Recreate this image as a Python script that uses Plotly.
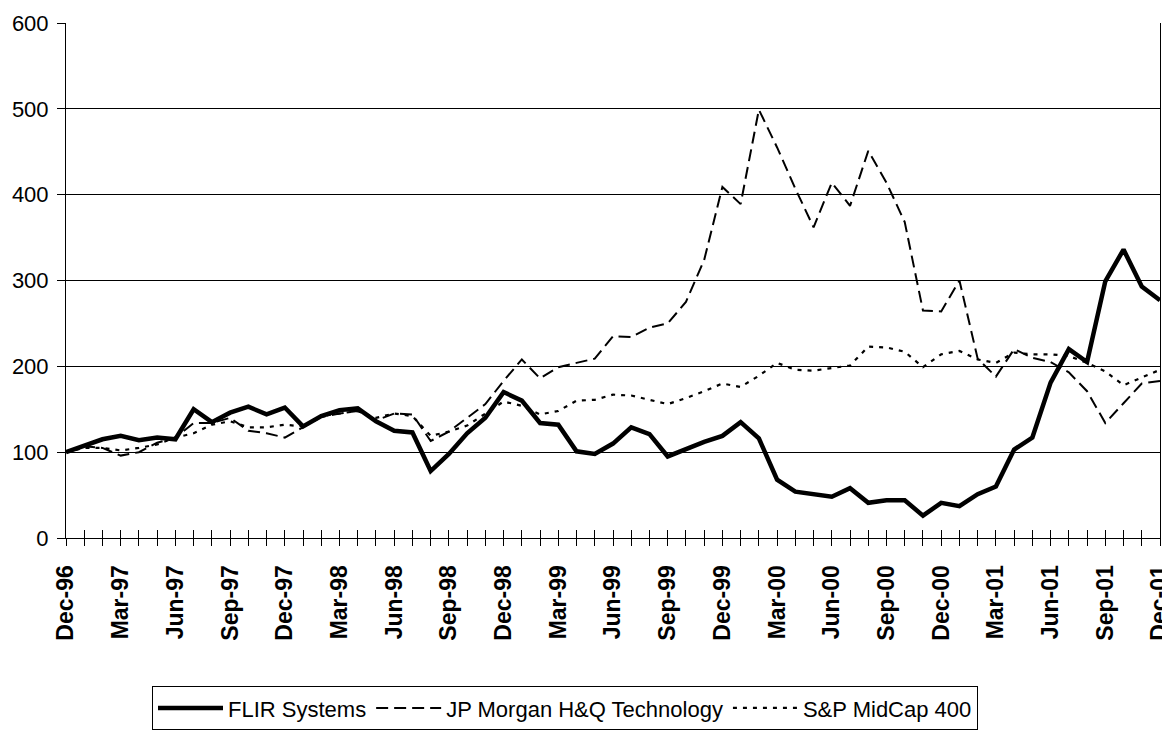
import numpy as np
import plotly.graph_objects as go

months = [
    "Dec-96", "Jan-97", "Feb-97", "Mar-97", "Apr-97", "May-97", "Jun-97", "Jul-97", "Aug-97", "Sep-97", "Oct-97", "Nov-97",
    "Dec-97", "Jan-98", "Feb-98", "Mar-98", "Apr-98", "May-98", "Jun-98", "Jul-98", "Aug-98", "Sep-98", "Oct-98", "Nov-98",
    "Dec-98", "Jan-99", "Feb-99", "Mar-99", "Apr-99", "May-99", "Jun-99", "Jul-99", "Aug-99", "Sep-99", "Oct-99", "Nov-99",
    "Dec-99", "Jan-00", "Feb-00", "Mar-00", "Apr-00", "May-00", "Jun-00", "Jul-00", "Aug-00", "Sep-00", "Oct-00", "Nov-00",
    "Dec-00", "Jan-01", "Feb-01", "Mar-01", "Apr-01", "May-01", "Jun-01", "Jul-01", "Aug-01", "Sep-01", "Oct-01", "Nov-01",
    "Dec-01",
]

flir = [100, 107, 115, 119, 114, 117, 115, 150, 135, 146, 153, 144,
        152, 130, 142, 149, 151, 136, 125, 123, 78, 98, 122, 140,
        170, 160, 134, 132, 101, 98, 110, 129, 121, 95, 104, 112,
        119, 135, 116, 68, 54, 51, 48, 58, 41, 44, 44, 26,
        41, 37, 51, 60, 103, 117, 181, 220, 205, 299, 336, 293,
        277]

jpm_hq = [100, 107, 105, 96, 100, 111, 117, 134, 134, 140, 125, 122,
          117, 129, 141, 145, 148, 137, 145, 144, 113, 124, 140, 156,
          183, 208, 186, 199, 204, 209, 235, 234, 245, 250, 275, 324,
          409, 389, 499, 455, 407, 362, 414, 387, 451, 414, 368, 265,
          264, 300, 209, 188, 220, 210, 205, 193, 171, 134, 157, 180,
          183]

sp_midcap = [100, 105, 105, 102, 105, 109, 117, 122, 132, 136, 129, 129,
             132, 130, 142, 145, 148, 140, 145, 142, 119, 124, 131, 145,
             159, 154, 144, 148, 160, 161, 167, 166, 161, 156, 163, 171,
             180, 176, 189, 204, 196, 195, 198, 201, 223, 222, 217, 199,
             214, 218, 208, 204, 216, 214, 214, 212, 204, 194, 178, 187,
             196]

series_names = ["FLIR Systems", "JP Morgan H&Q Technology", "S&P MidCap 400"]
y_ticks = [0, 100, 200, 300, 400, 500, 600]

x = np.arange(len(months))
tick_text = [m if i % 3 == 0 else "" for i, m in enumerate(months)]

# page body has an 8px default margin; figure is sized/margined to compensate
FIG_W, FIG_H = 1162, 732
M_L, M_R, M_T, M_B = 58, 10, 15, 199
plot_w = FIG_W - M_L - M_R
plot_h = FIG_H - M_T - M_B

fig = go.Figure()
fig.add_trace(go.Scatter(x=x, y=flir, mode="lines", name=series_names[0],
                         line=dict(color="black", width=4.5)))
fig.add_trace(go.Scatter(x=x, y=jpm_hq, mode="lines", name=series_names[1],
                         line=dict(color="black", width=2, dash="12px,6px")))
fig.add_trace(go.Scatter(x=x, y=sp_midcap, mode="lines", name=series_names[2],
                         line=dict(color="black", width=2.2, dash="4px,6px")))
# invisible trace to carry the overlay axis (inner halves of the crossing ticks)
fig.add_trace(go.Scatter(x=x, y=flir, xaxis="x2", mode="lines", opacity=0,
                         showlegend=False, hoverinfo="skip",
                         line=dict(width=0)))

fig.update_layout(
    width=FIG_W, height=FIG_H,
    paper_bgcolor="white", plot_bgcolor="white",
    margin=dict(l=M_L, r=M_R, t=M_T, b=M_B),
    font=dict(family="Liberation Sans, Arial, sans-serif", color="black"),
    xaxis=dict(
        range=[0, 60], tickmode="array", tickvals=list(x), ticktext=tick_text,
        ticks="outside", ticklen=7, tickwidth=1, tickcolor="black",
        tickangle=-90, showgrid=False, showline=True, linecolor="black",
        linewidth=1, zeroline=False, automargin=False,
        ticklabeloverflow="allow",
        tickfont=dict(family="Liberation Sans, Arial, sans-serif", size=23,
                      weight="bold", color="black"),
        ticklabelstandoff=10,
    ),
    xaxis2=dict(
        range=[0, 60], overlaying="x", anchor="y", side="bottom",
        tickmode="array", tickvals=list(x), ticks="inside", ticklen=8,
        tickwidth=1, tickcolor="black", showticklabels=False,
        showgrid=False, showline=False, zeroline=False, automargin=False,
    ),
    yaxis=dict(
        range=[0, 600], tickmode="array", tickvals=y_ticks,
        ticks="outside", ticklen=8, tickwidth=1, tickcolor="black",
        showgrid=True, gridcolor="black", gridwidth=1,
        showline=True, linecolor="black", linewidth=1, zeroline=False,
        mirror=True, automargin=False,
        tickfont=dict(family="Liberation Sans, Arial, sans-serif", size=22, color="black"),
        ticklabelstandoff=4,
    ),
    legend=dict(
        orientation="h", xanchor="left", x=(144 - M_L) / plot_w, yanchor="top",
        y=-(682 - (FIG_H - M_B)) / plot_h,
        bordercolor="black", borderwidth=1, bgcolor="white",
        font=dict(family="Liberation Sans, Arial, sans-serif", size=22, color="black"),
        itemwidth=65, tracegroupgap=0,
    ),
)

fig.write_html("out.html")
